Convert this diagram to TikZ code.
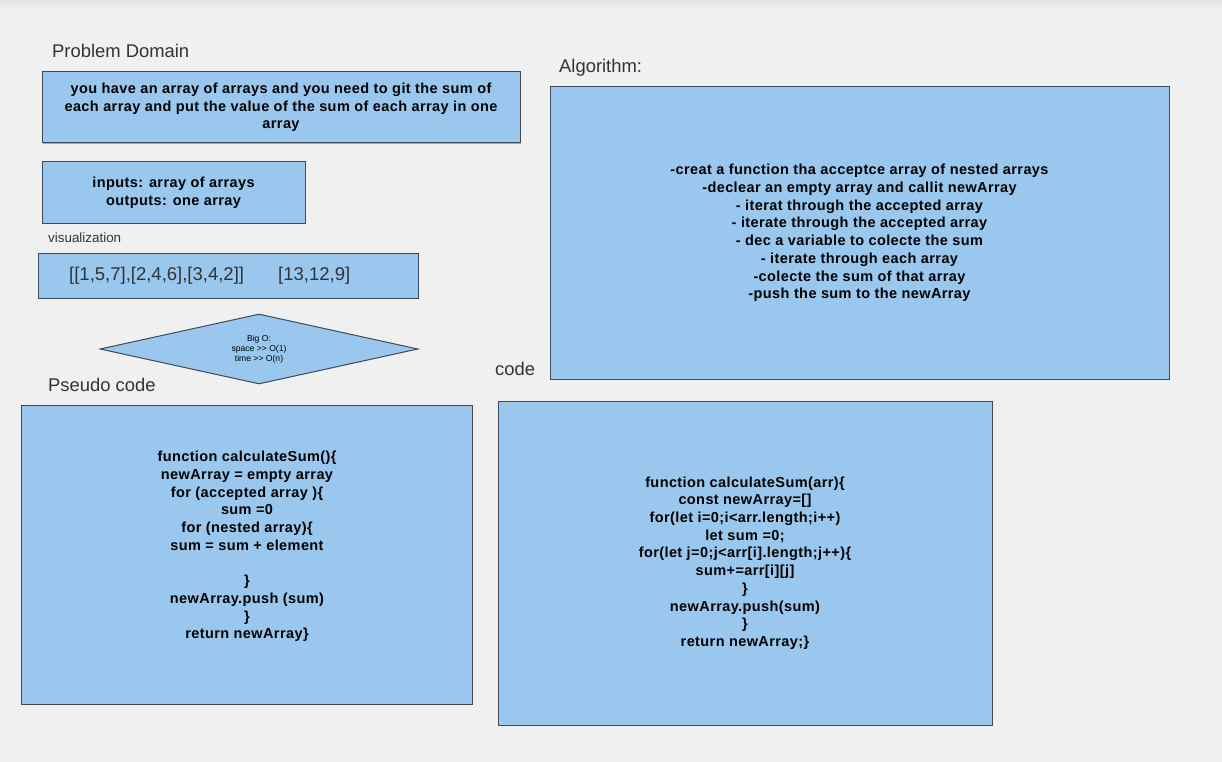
\documentclass[tikz,border=0pt]{standalone}
\usepackage{fontspec}
\setmainfont{Liberation Sans}
\newfontfamily\widebold[LetterSpace=2.8]{Liberation Sans}
\usetikzlibrary{shapes.geometric,shadows}
\definecolor{boxfill}{HTML}{99C7EE}
\definecolor{boxline}{HTML}{3F4A55}
\definecolor{pagebg}{HTML}{F0F0F0}
\definecolor{topbg}{HTML}{E4E4E4}
\definecolor{ttlc}{HTML}{333333}
\tikzset{
  blk/.style={rectangle, draw=boxline, fill=boxfill, line width=1pt, inner sep=0pt,
    drop shadow={shadow xshift=1pt, shadow yshift=-1pt, opacity=0.3, fill=black}},
  bigo/.style={diamond, aspect=4.5, draw=boxline, fill=boxfill, line width=1pt, inner sep=0pt,
    minimum width=318pt, minimum height=70pt, align=center,
    font=\fontsize{8.6}{10}\selectfont},
  txt/.style={align=center, inner sep=0pt, font=\widebold\bfseries\fontsize{14.5}{17.7}\selectfont},
  ttl/.style={anchor=base west, inner sep=0pt, text=ttlc, font=\fontsize{18.4}{22}\selectfont},
  sml/.style={anchor=base west, inner sep=0pt, text=ttlc, font=\fontsize{13.4}{16}\selectfont},
  vis/.style={anchor=base west, inner sep=0pt, text=ttlc, font=\fontsize{18.5}{23}\selectfont},
}

\begin{document}
\begin{tikzpicture}[x=1pt, y=-1pt]
  \fill[pagebg] (0,0) rectangle (1222,762);
  \shade[top color=topbg, bottom color=pagebg] (0,0) rectangle (1222,9);
  \useasboundingbox (0,0) rectangle (1222,762);
  \node[ttl] (domainttl) at (52,58) {Problem Domain};
  \node[blk, minimum width=478pt, minimum height=71pt, txt] (domain) at (281,107.5)
    {you have an array of arrays and you need to git the sum of\\each array and put the value of the sum of each array in one\\array};
  \node[blk, minimum width=263pt, minimum height=61pt, txt] (io) at (173.5,192.5)
    {inputs: array of arrays\\outputs: one array};
  \node[sml] (visttl) at (48,242.5) {visualization};
  \node[blk, minimum width=380pt, minimum height=45pt] (vis) at (228,275.5) {};
  \node[vis] (visin) at (69,280) {[[1,5,7],[2,4,6],[3,4,2]]};
  \node[vis] (visout) at (278,280) {[13,12,9]};
  \node[bigo] (bigo) at (259,349) {Big O:\\space {>}{>} O(1)\\time {>}{>} O(n)};
  \node[ttl] (pseudottl) at (48,391) {Pseudo code};
  \node[blk, minimum width=451pt, minimum height=299pt] (pseudo) at (246.5,554.5) {};
  \node[txt] (pseudotxt) at (247,546.5)
    {function calculateSum()\{\\newArray = empty array\\for (accepted array )\{\\sum =0\\for (nested array)\{\\sum = sum + element\\[17.7pt]\}\\newArray.push (sum)\\\}\\return newArray\}};
  \node[ttl] (algottl) at (559,73) {Algorithm:};
  \node[blk, minimum width=619pt, minimum height=292pt, txt] (algo) at (859.5,233)
    {-creat a function tha acceptce array of nested arrays\\-declear an empty array and callit newArray\\- iterat through the accepted array\\- iterate through the accepted array\\- dec a variable to colecte the sum\\- iterate through each array\\-colecte the sum of that array\\-push the sum to the newArray};
  \node[ttl] (codettl) at (495,375) {code};
  \node[blk, minimum width=494pt, minimum height=324pt, txt] (code) at (745,563)
    {function calculateSum(arr)\{\\const newArray=[]\\for(let i=0;i<arr.length;i++)\\let sum =0;\\for(let j=0;j<arr[i].length;j++)\{\\sum+=arr[i][j]\\\}\\newArray.push(sum)\\\}\\return newArray;\}};
\end{tikzpicture}
\end{document}
